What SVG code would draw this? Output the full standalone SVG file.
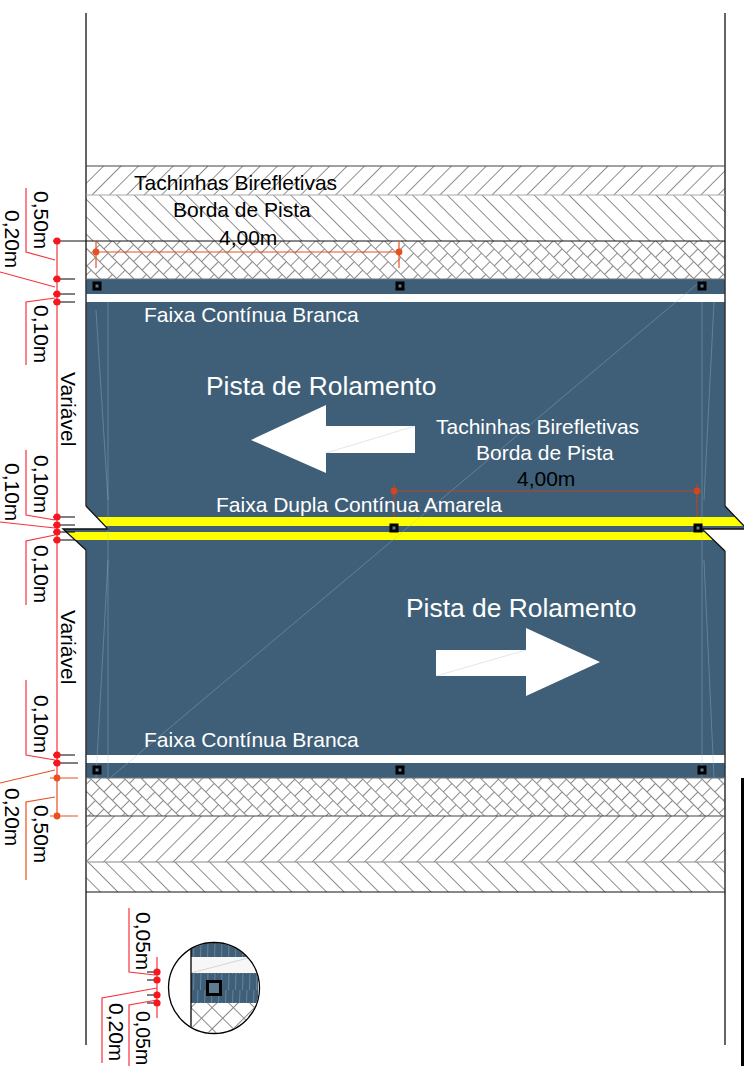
<svg xmlns="http://www.w3.org/2000/svg" width="744" height="1066" viewBox="0 0 744 1066">
<style>
text{font-family:"Liberation Sans",Arial,sans-serif;font-size:21px;fill:#000}
.w{fill:#fff}
.big{font-size:26.4px;fill:#fff}
.red{fill:none;stroke:#f8323c;stroke-width:1.2}
.or{fill:none;stroke:#e8501f;stroke-width:1.2}
.tick{stroke:#000;stroke-width:1;fill:none}
.faint{stroke:#a9bcc9;stroke-width:.6;fill:none;opacity:.6}
.ln{stroke:#8a8a8a;stroke-width:1;fill:none;shape-rendering:crispEdges}
</style>
<defs>
<pattern id="hf" width="12.3" height="12.3" patternUnits="userSpaceOnUse" patternTransform="rotate(45)"><rect width="12.3" height="12.3" fill="#fff"/><line class="ln" x1="6" y1="0" x2="6" y2="12.3"/></pattern>
<pattern id="hb" width="12.3" height="12.3" patternUnits="userSpaceOnUse" patternTransform="rotate(-45)"><rect width="12.3" height="12.3" fill="#fff"/><line class="ln" x1="6" y1="0" x2="6" y2="12.3"/></pattern>
<pattern id="hx" width="12" height="24" patternUnits="userSpaceOnUse" patternTransform="rotate(45)"><rect width="12" height="24" fill="#fff"/><path class="ln" d="M0 6H12M0 18H12M3 6V18M9 18V24M9 0V6"/></pattern>
<pattern id="hxd" width="15" height="15" patternUnits="userSpaceOnUse" patternTransform="rotate(45)"><rect width="15" height="15" fill="#fff"/><path class="ln" d="M7.5 0V15M0 7.5H15"/></pattern>
<pattern id="streak" width="7" height="30" patternUnits="userSpaceOnUse"><rect width="7" height="30" fill="#3f5f78"/><path d="M2 0L1.500 14M5 12L4.500 30" stroke="#6f8ca0" stroke-width=".8" fill="none"/></pattern>
<g id="tack"><rect x="-4.5" y="-4.5" width="9" height="9" fill="#000"/><rect x="-1.5" y="-1.5" width="3" height="3" fill="#5f7d92"/></g>
<circle id="rd" r="3.6" fill="#f8161e"/>
<circle id="od" r="3.4" fill="#e8501f"/>
<clipPath id="cc"><circle cx="214" cy="988" r="45"/></clipPath>
</defs>

<g id="pavement">
<rect x="86" y="166" width="639" height="29" fill="url(#hf)"/>
<rect x="86" y="195" width="639" height="46" fill="url(#hb)"/>
<rect x="86" y="241" width="639" height="38" fill="url(#hx)"/>
<rect x="86" y="279" width="639" height="15" fill="#3f5f78"/>
<rect x="86" y="778" width="639" height="38" fill="url(#hx)"/>
<rect x="86" y="816" width="639" height="46" fill="url(#hf)"/>
<rect x="86" y="862" width="639" height="30" fill="url(#hb)"/>
<path d="M86 302H725V506L744 526V529H702L725 551V755H86V550L63 529H108L86 506Z" fill="#3f5f78"/>
<rect x="86" y="763" width="639" height="15" fill="#3f5f78"/>
<path d="M97 517H735L744 526H105Z" fill="#ff0"/>
<path d="M66 532H705L713 540H75Z" fill="#ff0"/>
<path d="M86 506L108 529H63L86 550" fill="none" stroke="#111" stroke-width="1.3"/>
<path d="M725 506L744 526M744 529H702L725 551" fill="none" stroke="#111" stroke-width="1.3"/>
<path class="faint" d="M108 302V778M702 302V778M110 778L702 280M96 310L108 500M96 778L108 560M714 302L704 500M714 778L704 560"/>
</g>

<g id="borders">
<path d="M86 13V506M86 550V1045M725 13V506M725 551V1045" stroke="#333" stroke-width="1.5" fill="none"/>
<path d="M86 166H725" stroke="#444" stroke-width="1.2"/>
<path d="M86 195H725" stroke="#aaa" stroke-width="1.2"/>
<path d="M53 241H725" stroke="#111" stroke-width="1"/>
<path d="M86 279H725M86 778H725" stroke="#777" stroke-width="1.2"/>
<path d="M86 816H725" stroke="#444" stroke-width="1.2"/>
<path d="M86 862H725" stroke="#888" stroke-width="1.2"/>
<path d="M86 892H725" stroke="#111" stroke-width="1"/>
<rect x="741" y="778" width="3" height="288" fill="#000"/>
</g>

<g id="arrows">
<g id="arrow-left"><path d="M251 440L326 405V426H415V453H326V473Z" fill="#fff"/><path d="M415 426L326 453" class="faint"/></g>
<g id="arrow-right"><path d="M436 650H526V628L600 662L526 696V676H436Z" fill="#fff"/><path d="M526 650L436 676" class="faint"/></g>
</g>

<g id="tachas">
<use href="#tack" x="97" y="286"/><use href="#tack" x="400" y="286"/><use href="#tack" x="702" y="286"/>
<use href="#tack" x="394" y="528"/><use href="#tack" x="698" y="528"/>
<use href="#tack" x="97" y="770"/><use href="#tack" x="400" y="770"/><use href="#tack" x="702" y="770"/>
</g>

<g id="connectors">
<path class="tick" d="M53 279H75M53 294H75M53 302H75M53 517H75M53 525H75M53 532H75M53 540H75M53 755H75M53 763H78"/>
<path class="red" d="M57 241V778"/>
<path class="or" d="M57 778V816M50 778H78M50 816H78"/>
<path class="red" d="M26 188V252L55 260M0 272L55 287M55 298L26 302V365M26 450V515L55 520M0 522L55 528M55 535L26 541V605M26 680V755L55 760"/>
<path class="or" d="M0 783L55 770M26 880V802L55 797"/>
<use href="#rd" x="57" y="241"/><use href="#rd" x="57" y="279"/><use href="#rd" x="57" y="294"/><use href="#rd" x="57" y="302"/>
<use href="#rd" x="57" y="517"/><use href="#rd" x="57" y="525"/><use href="#rd" x="57" y="532"/><use href="#rd" x="57" y="540"/>
<use href="#rd" x="57" y="755"/><use href="#rd" x="57" y="763"/>
<use href="#od" x="57" y="778"/><use href="#od" x="57" y="816"/>
<path class="or" d="M96 252H399M96 241V268M399 241V268"/>
<use href="#od" x="96" y="252"/><use href="#od" x="399" y="252"/>
<path d="M394 491H697M394 484V517M697 484V517" fill="none" stroke="#b5452a" stroke-width="1.2"/>
<circle cx="394" cy="491" r="3.4" fill="#d2451e"/><circle cx="697" cy="491" r="3.4" fill="#d2451e"/>
</g>

<g id="labels">
<text x="134" y="190">Tachinhas Birefletivas</text>
<text x="173" y="217">Borda de Pista</text>
<text x="219" y="245">4,00m</text>
<text class="w" x="144" y="322">Faixa Contínua Branca</text>
<text class="big" x="206" y="395">Pista de Rolamento</text>
<text class="w" x="436" y="434">Tachinhas Birefletivas</text>
<text class="w" x="476" y="460">Borda de Pista</text>
<text x="517" y="486">4,00m</text>
<text class="w" x="216" y="512">Faixa Dupla Contínua Amarela</text>
<text class="big" x="406" y="617">Pista de Rolamento</text>
<text class="w" x="144" y="747">Faixa Contínua Branca</text>
<text transform="translate(34 191) rotate(90)">0,50m</text>
<text transform="translate(5 210) rotate(90)">0,20m</text>
<text transform="translate(34 305) rotate(90)">0,10m</text>
<text transform="translate(61 372) rotate(90)">Variável</text>
<text transform="translate(34 455) rotate(90)">0,10m</text>
<text transform="translate(5 463) rotate(90)">0,10m</text>
<text transform="translate(34 545) rotate(90)">0,10m</text>
<text transform="translate(61 610) rotate(90)">Variável</text>
<text transform="translate(34 695) rotate(90)">0,10m</text>
<text transform="translate(5 788) rotate(90)">0,20m</text>
<text transform="translate(34 805) rotate(90)">0,50m</text>
</g>

<g id="detail">
<circle cx="214" cy="988" r="45.5" fill="#fff"/>
<g clip-path="url(#cc)">
<rect x="191" y="1003" width="67" height="40" fill="url(#hxd)"/>
<rect x="191" y="940" width="67" height="17" fill="url(#streak)"/>
<rect x="191" y="957" width="67" height="16" fill="#f7f7f7"/>
<rect x="191" y="973" width="67" height="30" fill="url(#streak)"/>
<path d="M191 973L248 958" class="faint" style="stroke:#999"/>
<path d="M191 925V1050" stroke="#000" stroke-width="1.3"/>
<rect x="206" y="980" width="16" height="16" fill="#000"/><rect x="209" y="983" width="10" height="10" fill="#5f7d92"/>
</g>
<circle cx="214" cy="988" r="45.5" fill="none" stroke="#000" stroke-width="1.3"/>
<path class="tick" stroke="#555" d="M147 972H157M147 980H157M147 995H157M147 1003H157"/>
<path class="red" d="M157 957V1018M129 908V972L155 975M102 1063V998L157 988M129 1066V1005L157 1000"/>
<use href="#rd" x="157" y="972"/><use href="#rd" x="157" y="980"/><use href="#rd" x="157" y="995"/><use href="#rd" x="157" y="1003"/>
<text transform="translate(136 912) rotate(90)">0,05m</text>
<text transform="translate(109 1003) rotate(90)">0,20m</text>
<text transform="translate(136 1011) rotate(90)" style="font-size:19.5px">0,05m</text>
</g>
</svg>
